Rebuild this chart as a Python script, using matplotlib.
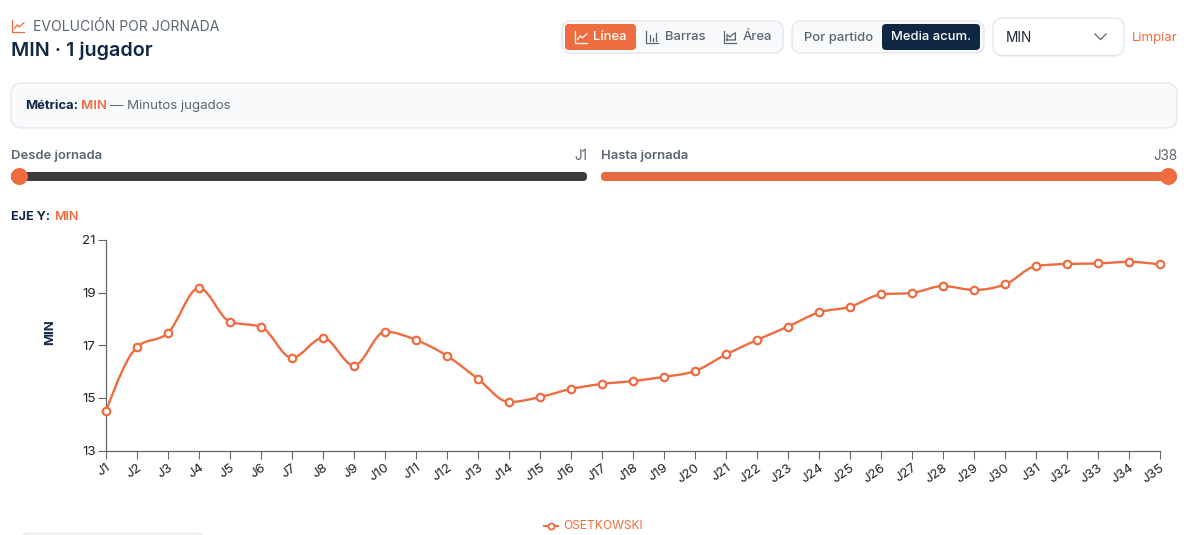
import numpy as np
import matplotlib
matplotlib.use("Agg")
from matplotlib import pyplot as plt
from matplotlib.patches import FancyBboxPatch, PathPatch, Circle
from matplotlib.path import Path

plt.rcParams['font.family'] = ['Inter', 'DejaVu Sans']

jornadas = ['J%d' % i for i in range(1, 36)]
min_media = [14.5, 16.93, 17.47, 19.18, 17.89, 17.7, 16.52, 17.28, 16.23, 17.52,
             17.2, 16.6, 15.72, 14.84, 15.03, 15.34, 15.53, 15.64, 15.8, 16.02,
             16.65, 17.2, 17.71, 18.25, 18.46, 18.93, 18.99, 19.25, 19.1, 19.31,
             20.01, 20.09, 20.11, 20.17, 20.07]
y_ticks = [13, 15, 17, 19, 21]
jugador = 'OSETKOWSKI'

W, H = 1200, 535
ORANGE = '#ee6c3f'
NAVY = '#0f2744'
GREY = '#5b6472'
BORDER = '#e3e8ef'
PANEL = '#f8fafc'
AXIS = '#666666'


def monotone_path(xs, ys):
    # same idea as d3 curveMonotoneX, one bezier per segment
    xs = np.array(xs, dtype=float)
    ys = np.array(ys, dtype=float)
    d = np.diff(ys) / np.diff(xs)
    t = np.zeros(len(xs))
    for i in range(1, len(xs) - 1):
        if d[i - 1] * d[i] > 0:
            t[i] = (np.sign(d[i - 1]) + np.sign(d[i])) * min(abs(d[i - 1]), abs(d[i]), 0.25 * abs(d[i - 1] + d[i]))
    t[0] = (3 * d[0] - t[1]) / 2
    t[-1] = (3 * d[-1] - t[-2]) / 2
    verts = [(xs[0], ys[0])]
    codes = [Path.MOVETO]
    for i in range(len(xs) - 1):
        h = (xs[i + 1] - xs[i]) / 3
        verts += [(xs[i] + h, ys[i] + h * t[i]),
                  (xs[i + 1] - h, ys[i + 1] - h * t[i + 1]),
                  (xs[i + 1], ys[i + 1])]
        codes += [Path.CURVE4] * 3
    return Path(verts, codes)


def box(ui, x0, y0, x1, y1, fc, ec='none', r=8, lw=1.0, z=1):
    ui.add_patch(FancyBboxPatch((x0 + r, y0 + r), x1 - x0 - 2 * r, y1 - y0 - 2 * r,
                                boxstyle='round,pad=%f,rounding_size=%f' % (r, r),
                                fc=fc, ec=ec, lw=lw, zorder=z))


def label(ui, x, y, s, size=12.5, color=GREY, weight='normal', ha='left', **kw):
    # size is in pixels here, dpi is 100
    return ui.text(x, y + 1, s, fontsize=size * 0.72, color=color, fontweight=weight,
                   ha=ha, va='center', zorder=5, **kw)


def line_icon(ui, x, y, color, s=12):
    ui.plot([x, x, x + s], [y, y + s, y + s], color=color, lw=0.9, zorder=5)
    ui.plot([x + s * .2, x + s * .45, x + s * .6, x + s], [y + s * .72, y + s * .4, y + s * .58, y + s * .22],
            color=color, lw=0.9, zorder=5)


def bar_icon(ui, x, y, color, s=12):
    ui.plot([x, x, x + s], [y, y + s, y + s], color=color, lw=0.9, zorder=5)
    for dx, top in [(.3, .35), (.55, .6), (.8, .15)]:
        ui.plot([x + s * dx, x + s * dx], [y + s * .85, y + s * top], color=color, lw=0.9, zorder=5)


def area_icon(ui, x, y, color, s=12):
    ui.plot([x, x, x + s], [y, y + s, y + s], color=color, lw=0.9, zorder=5)
    ui.plot([x + s * .25, x + s * .25, x + s * .5, x + s * .7, x + s * .95, x + s * .95, x + s * .25],
            [y + s * .75, y + s * .3, y + s * .5, y + s * .3, y + s * .15, y + s * .75, y + s * .75],
            color=color, lw=0.9, zorder=5)


fig = plt.figure(figsize=(W / 100, H / 100), dpi=100, facecolor='white')

ui = fig.add_axes([0, 0, 1, 1])
ui.set_xlim(0, W)
ui.set_ylim(H, 0)
ui.axis('off')

# header
line_icon(ui, 12, 20, ORANGE)
label(ui, 33, 26, 'EVOLUCIÓN POR JORNADA', size=14, color=GREY)
label(ui, 11, 50, 'MIN · 1 jugador', size=19.7, color=NAVY, weight='semibold')

# chart type buttons
box(ui, 562, 21, 783, 53, PANEL, BORDER, r=9)
box(ui, 565, 24, 636, 50, ORANGE, r=4, z=2)
line_icon(ui, 575, 31, 'white')
label(ui, 593, 36.5, 'Línea', size=13, color='white', weight='medium')
bar_icon(ui, 646, 31, GREY)
label(ui, 665, 36.5, 'Barras', size=13, color=GREY, weight='medium')
area_icon(ui, 724, 31, GREY)
label(ui, 743, 36.5, 'Área', size=13, color=GREY, weight='medium')

box(ui, 792, 21, 984, 53, PANEL, BORDER, r=9)
label(ui, 804, 36.5, 'Por partido', size=13, color=GREY, weight='medium')
box(ui, 882, 24, 980, 50, NAVY, r=4, z=2)
label(ui, 891, 36.5, 'Media acum.', size=13, color='white', weight='medium')

# select
box(ui, 993, 19, 1124, 57, '#eef1f5', 'none', r=11, z=1)
box(ui, 993, 18, 1124, 55.5, 'white', BORDER, r=10, z=2)
label(ui, 1006, 36.5, 'MIN', size=13.6, color='#1f2937')
ui.plot([1095, 1100.5, 1106], [34, 39.5, 34], color='#6b7280', lw=1.0, zorder=5)
label(ui, 1132, 36.5, 'Limpiar', size=13.2, color=ORANGE)

# metric note
box(ui, 11, 83, 1177, 128, PANEL, BORDER, r=11)
label(ui, 25, 105, 'Métrica:', size=13, color=NAVY, weight='bold')
label(ui, 81.5, 105, 'MIN', size=13.2, color=ORANGE, weight='semibold')
label(ui, 110, 105, '— Minutos jugados', size=13.3, color=GREY)

# range sliders
label(ui, 11, 155, 'Desde jornada', size=13, color=GREY, weight='semibold')
label(ui, 587, 155, 'J1', size=13.5, color=GREY, ha='right')
label(ui, 601, 155, 'Hasta jornada', size=13, color=GREY, weight='semibold')
label(ui, 1177, 155, 'J38', size=13.5, color=GREY, ha='right')
box(ui, 11, 172, 587, 181, '#3a3c3e', r=4)
box(ui, 601, 172, 1177, 181, '#e56a40', r=4)
ui.add_patch(Circle((19.5, 176.5), 8.5, fc=ORANGE, ec='none', zorder=4))
ui.add_patch(Circle((1168.5, 176.5), 8.5, fc=ORANGE, ec='none', zorder=4))

label(ui, 11, 215.5, 'EJE Y:', size=12.6, color=NAVY, weight='bold')
label(ui, 54, 215.5, 'MIN', size=12.6, color=ORANGE, weight='semibold')

# box that starts below the chart, cut by the picture edge
box(ui, 20, 533.5, 205, 560, 'white', BORDER, r=8)

# chart
ax_l, ax_r, ax_t, ax_b = 106, 1160, 240, 450.5
ax = fig.add_axes([ax_l / W, 1 - ax_b / H, (ax_r - ax_l) / W, (ax_b - ax_t) / H])
ax.patch.set_alpha(0)
x = np.arange(len(jornadas))
ax.add_patch(PathPatch(monotone_path(x, min_media), fc='none', ec=ORANGE, lw=1.7,
                       clip_on=False, zorder=3))
ax.plot(x, min_media, ls='none', marker='o', ms=5.4, mfc='white', mec=ORANGE, mew=1.6,
        clip_on=False, zorder=4)
ax.set_xlim(0, len(jornadas) - 1)
ax.set_ylim(y_ticks[0], y_ticks[-1])
ax.set_yticks(y_ticks)
ax.set_xticks(x)
ax.set_xticklabels(jornadas, rotation=35, ha='right', rotation_mode='anchor')
ax.tick_params(axis='both', length=6, width=0.8, color=AXIS, labelsize=9.6, labelcolor='#222222', pad=1.5)
ax.tick_params(axis='x', pad=2)
for s in ['top', 'right']:
    ax.spines[s].set_visible(False)
for s in ['left', 'bottom']:
    ax.spines[s].set_color(AXIS)
    ax.spines[s].set_linewidth(0.9)
ax.set_ylabel('MIN', fontsize=9.4, fontweight='bold', color=NAVY)
ax.yaxis.set_label_coords((56 - ax_l) / (ax_r - ax_l), 0.56)

# legend
ui.plot([544, 558], [526, 526], color=ORANGE, lw=1.5, zorder=5)
ui.plot([551], [526], marker='o', ms=4.4, mfc='white', mec=ORANGE, mew=1.3, zorder=6)
label(ui, 563, 525, jugador, size=12, color=ORANGE)

fig.savefig('out.png', dpi=100)
